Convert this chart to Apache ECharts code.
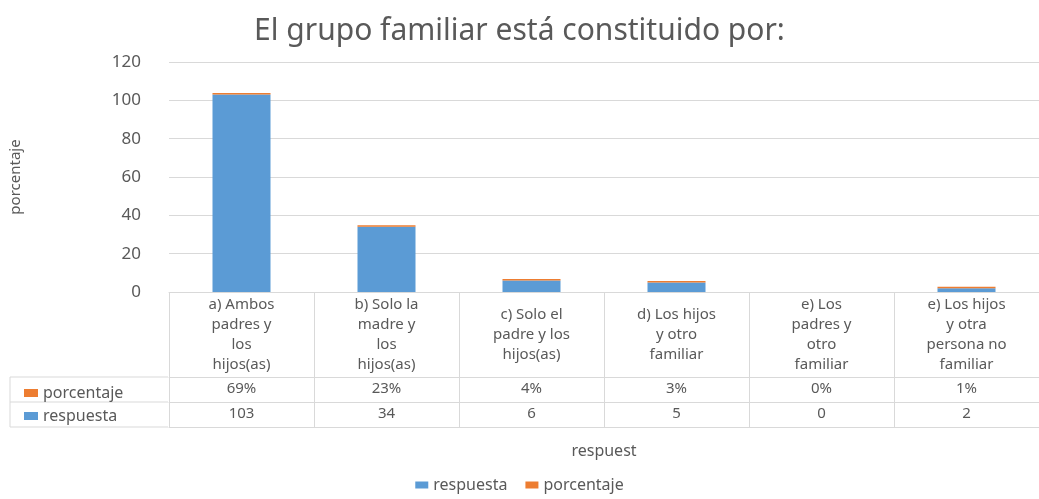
<!DOCTYPE html>
<html>
<head>
<meta charset="utf-8">
<script src="https://cdn.jsdelivr.net/npm/echarts@6/dist/echarts.min.js"></script>
<style>
  html, body { margin: 0; padding: 0; background: #fff; }
  #chart { width: 1039px; height: 499px; }
</style>
</head>
<body>
<div id="chart"></div>
<script>
// categorias (con saltos de linea como en la tabla)
const categorias = [
  'a) Ambos\npadres y\nlos\nhijos(as)',
  'b) Solo la\nmadre y\nlos\nhijos(as)',
  'c) Solo el\npadre y los\nhijos(as)',
  'd) Los hijos\ny otro\nfamiliar',
  'e) Los\npadres y\notro\nfamiliar',
  'e) Los hijos\ny otra\npersona no\nfamiliar'
]
const respuesta = [103, 34, 6, 5, 0, 2]
const porcentaje = [0.69, 0.23, 0.04, 0.03, 0, 0.01]
const yTicks = [0, 20, 40, 60, 80, 100, 120]

const gris = '#595959'
const linea = '#d9d9d9'
const fuente = 'Noto Sans'

const chart = echarts.init(document.getElementById('chart'))

const option = {
  animation: false,
  color: ['#5b9bd5', '#ed7d31'],
  textStyle: { fontFamily: fuente, color: gris },
  title: {
    text: 'El grupo familiar está constituido por:',
    left: 'center',
    top: 11,
    textStyle: { fontFamily: fuente, fontSize: 30, fontWeight: 'normal', color: gris }
  },
  legend: [
    {
      // leyenda inferior
      data: ['respuesta', 'porcentaje'],
      bottom: 1,
      left: 'center',
      icon: 'rect',
      itemWidth: 13,
      itemHeight: 7,
      itemGap: 18,
      textStyle: { fontFamily: fuente, fontSize: 16, color: gris }
    },
    {
      // etiquetas de filas de la tabla
      data: ['porcentaje', 'respuesta'],
      orient: 'vertical',
      left: 19,
      top: 380,
      icon: 'rect',
      itemWidth: 14,
      itemHeight: 8,
      itemGap: 7,
      selectedMode: false,
      textStyle: { fontFamily: fuente, fontSize: 16, color: gris }
    }
  ],
  grid: {
    left: 168,
    width: 873,
    top: 62,
    height: 230
  },
  xAxis: [
    {
      type: 'category',
      data: categorias,
      name: 'respuest',
      nameLocation: 'middle',
      nameGap: 151,
      nameTextStyle: { fontFamily: fuente, fontSize: 16, color: gris },
      axisLine: { lineStyle: { color: linea } },
      axisTick: { show: true, length: 135, lineStyle: { color: linea } },
      axisLabel: {
        interval: 0,
        margin: 43,
        verticalAlign: 'middle',
        lineHeight: 20,
        fontSize: 15,
        color: gris,
        fontFamily: fuente
      }
    },
    {
      type: 'category',
      data: porcentaje.map(v => Math.round(v * 100) + '%'),
      position: 'bottom',
      offset: 85,
      axisLine: { lineStyle: { color: linea } },
      axisTick: { show: false },
      axisLabel: { interval: 0, margin: 12, verticalAlign: 'middle', fontSize: 15, color: gris, fontFamily: fuente }
    },
    {
      type: 'category',
      data: respuesta.map(v => String(v)),
      position: 'bottom',
      offset: 110,
      axisLine: { lineStyle: { color: linea } },
      axisTick: { show: false },
      axisLabel: { interval: 0, margin: 12, verticalAlign: 'middle', fontSize: 15, color: gris, fontFamily: fuente }
    },
    {
      type: 'category',
      data: categorias,
      position: 'bottom',
      offset: 135,
      axisLine: { lineStyle: { color: linea } },
      axisTick: { show: false },
      axisLabel: { show: false }
    }
  ],
  yAxis: {
    type: 'value',
    min: yTicks[0],
    max: yTicks[yTicks.length - 1],
    interval: yTicks[1] - yTicks[0],
    name: 'porcentaje',
    nameLocation: 'middle',
    nameRotate: 90,
    nameGap: 146,
    nameTextStyle: { fontFamily: fuente, fontSize: 15, color: gris },
    axisLine: { show: false },
    axisTick: { show: false },
    splitLine: { lineStyle: { color: linea } },
    axisLabel: { margin: 28, fontSize: 17, color: gris, fontFamily: fuente }
  },
  graphic: [
    // bordes de la columna de etiquetas de la tabla
    { type: 'line', shape: { x1: 10, y1: 377, x2: 168, y2: 377 }, style: { stroke: linea, lineWidth: 1 } },
    { type: 'line', shape: { x1: 10, y1: 402, x2: 168, y2: 402 }, style: { stroke: linea, lineWidth: 1 } },
    { type: 'line', shape: { x1: 10, y1: 427, x2: 168, y2: 427 }, style: { stroke: linea, lineWidth: 1 } },
    { type: 'line', shape: { x1: 10, y1: 377, x2: 10, y2: 427 }, style: { stroke: linea, lineWidth: 1 } }
  ],
  series: [
    {
      name: 'respuesta',
      type: 'bar',
      stack: 'total',
      barWidth: '40%',
      data: respuesta
    },
    {
      name: 'porcentaje',
      type: 'bar',
      stack: 'total',
      barWidth: '40%',
      barMinHeight: 1.5,
      // un 0 no dibuja barra
      data: porcentaje.map(v => (v === 0 ? '-' : v))
    }
  ]
}

chart.setOption(option)
</script>
</body>
</html>
